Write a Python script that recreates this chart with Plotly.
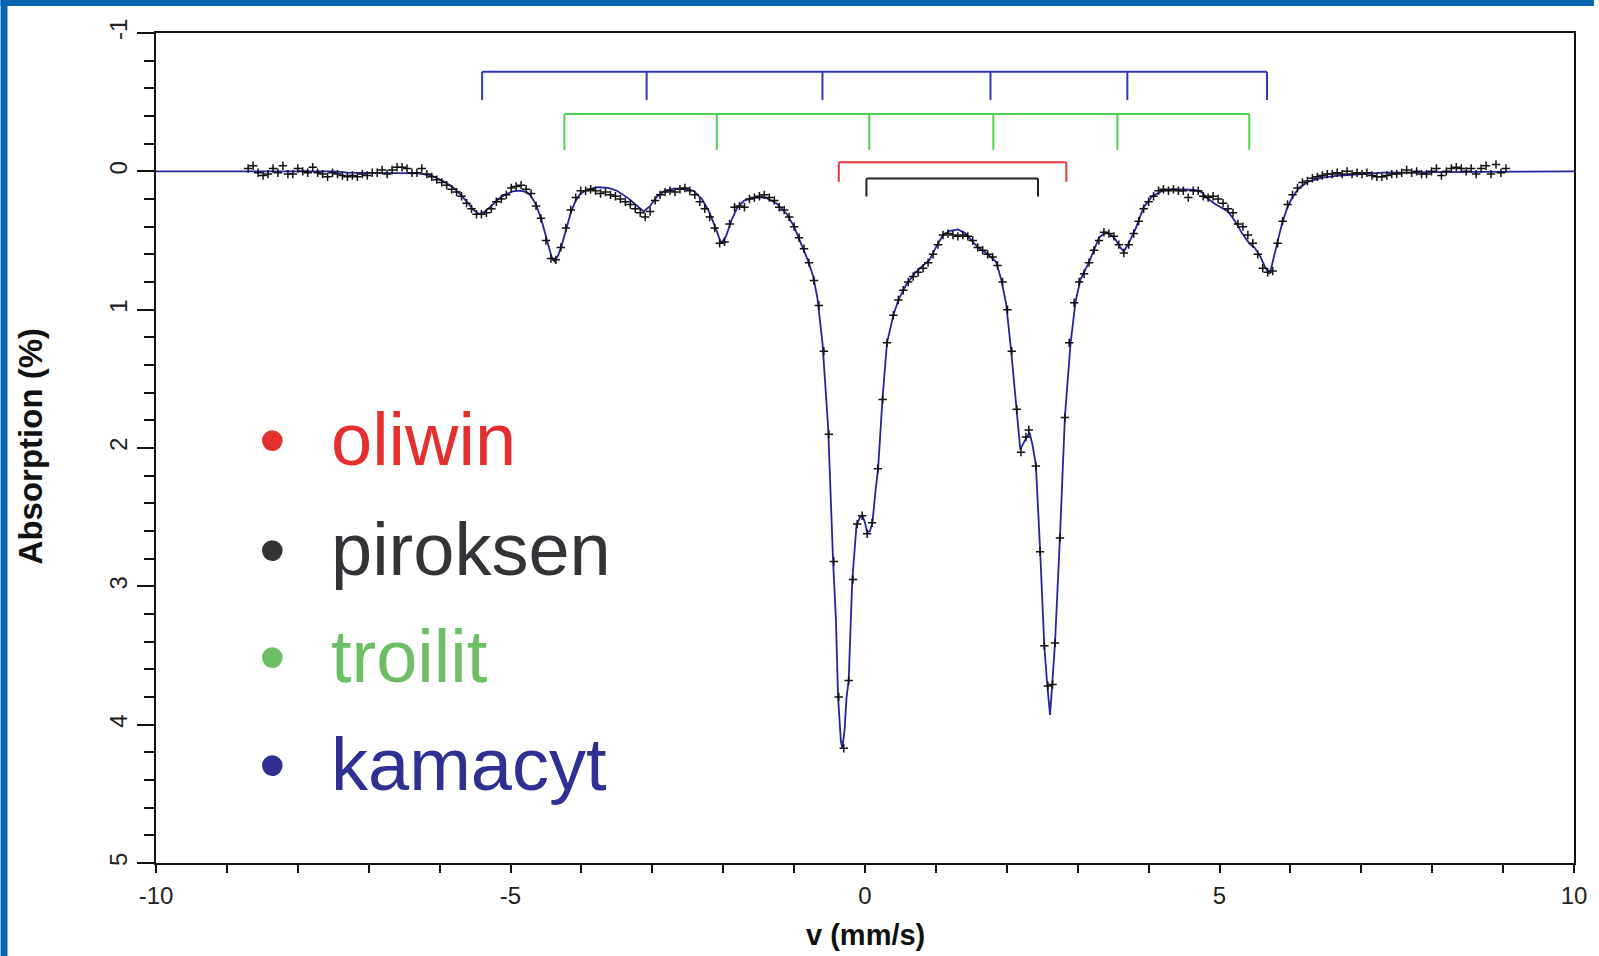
import plotly.graph_objects as go

# ---------------- data ----------------
fit_x = [-10.0, -7.5, -7.3, -6.9, -6.5, -6.3, -6.12, -5.93, -5.80, -5.70, -5.60, -5.52, -5.44,
         -5.36, -5.27, -5.17, -5.08, -4.97, -4.87, -4.77, -4.71, -4.64, -4.57, -4.52, -4.47,
         -4.42, -4.38, -4.33, -4.28, -4.24, -4.19, -4.15, -4.08, -4.01, -3.90, -3.77, -3.62,
         -3.50, -3.35, -3.22, -3.12, -3.03, -2.93, -2.82, -2.70, -2.55, -2.42, -2.30, -2.20,
         -2.10, -2.03, -1.96, -1.88, -1.80, -1.70, -1.55, -1.40, -1.25, -1.10, -1.00, -0.90,
         -0.80, -0.73, -0.67, -0.60, -0.52, -0.45, -0.41, -0.38, -0.34, -0.32, -0.29, -0.26,
         -0.23, -0.18, -0.12, -0.07, -0.035, 0.00, 0.03, 0.07, 0.105, 0.15, 0.185, 0.246,
         0.31, 0.40, 0.47, 0.58, 0.70, 0.80, 0.91, 1.00, 1.10, 1.20, 1.31, 1.42, 1.52, 1.62,
         1.71, 1.80, 1.85, 1.92, 1.99, 2.06, 2.13, 2.19, 2.25, 2.32, 2.36, 2.41, 2.47, 2.53,
         2.57, 2.61, 2.635, 2.68, 2.75, 2.82, 2.90, 2.97, 3.04, 3.16, 3.30, 3.39, 3.47, 3.53,
         3.60, 3.65, 3.72, 3.82, 3.93, 4.05, 4.20, 4.35, 4.50, 4.65, 4.75, 4.84, 4.95, 5.05,
         5.12, 5.22, 5.32, 5.42, 5.50, 5.58, 5.65, 5.71, 5.78, 5.88, 5.95, 6.02, 6.12, 6.25,
         6.45, 6.70, 7.00, 7.30, 7.60, 8.00, 10.0]
fit_y = [0.0, 0.0, 0.01, 0.01, 0.01, 0.015, 0.03, 0.075, 0.12, 0.17, 0.23, 0.28, 0.31,
         0.29, 0.25, 0.20, 0.17, 0.145, 0.14, 0.15, 0.18, 0.24, 0.34, 0.44, 0.54,
         0.62, 0.65, 0.61, 0.54, 0.46, 0.37, 0.30, 0.21, 0.16, 0.13, 0.115, 0.12,
         0.14, 0.19, 0.25, 0.29, 0.25, 0.18, 0.14, 0.125, 0.125, 0.14, 0.20, 0.29,
         0.42, 0.52, 0.47, 0.35, 0.26, 0.21, 0.19, 0.19, 0.23, 0.31, 0.40, 0.52,
         0.65, 0.76, 0.92, 1.24, 1.85, 2.82, 3.24, 3.80, 4.12, 4.17, 4.05, 3.80,
         3.68, 2.96, 2.56, 2.50, 2.49, 2.54, 2.61, 2.60, 2.54, 2.30, 2.15, 1.65,
         1.24, 1.04, 0.93, 0.82, 0.74, 0.69, 0.64, 0.55, 0.46, 0.43, 0.42, 0.45, 0.51, 0.56,
         0.59, 0.63, 0.656, 0.78, 0.955, 1.29, 1.71, 2.01, 1.95, 1.89, 1.97, 2.12, 2.74, 3.44,
         3.71, 3.93, 3.75, 3.41, 2.64, 1.77, 1.24, 0.94, 0.78, 0.656, 0.48, 0.44, 0.46, 0.49,
         0.55, 0.58, 0.52, 0.41, 0.26, 0.18, 0.14, 0.13, 0.13, 0.135, 0.15, 0.20, 0.24, 0.27,
         0.29, 0.36, 0.45, 0.52, 0.555, 0.62, 0.70, 0.74, 0.60, 0.38, 0.27, 0.195, 0.12, 0.075,
         0.045, 0.03, 0.02, 0.01, 0.01, 0.005, 0.0]

pts_x = [-8.70, -8.63, -8.56, -8.49, -8.42, -8.35, -8.28, -8.21, -8.14, -8.07, -8.00, -7.93,
         -7.86, -7.79, -7.72, -7.65, -7.58, -7.51, -7.44, -7.37, -7.30, -7.23, -7.16, -7.09,
         -7.02, -6.95, -6.88, -6.81, -6.74, -6.67, -6.60, -6.53, -6.46, -6.39, -6.32, -6.25,
         -6.18, -6.11, -6.04, -5.97, -5.90, -5.83, -5.76, -5.69, -5.62, -5.55, -5.48, -5.41,
         -5.34, -5.27, -5.20, -5.13, -5.06, -4.99, -4.92, -4.85, -4.78, -4.71, -4.64, -4.57,
         -4.50, -4.43, -4.36, -4.29, -4.22, -4.15, -4.08, -4.01, -3.94, -3.87, -3.80, -3.73,
         -3.66, -3.59, -3.52, -3.45, -3.38, -3.31, -3.24, -3.17, -3.10, -3.03, -2.96, -2.89,
         -2.82, -2.75, -2.68, -2.61, -2.54, -2.47, -2.40, -2.33, -2.26, -2.19, -2.12, -2.05,
         -1.98, -1.91, -1.84, -1.77, -1.70, -1.63, -1.56, -1.49, -1.42, -1.35, -1.28, -1.21,
         -1.14, -1.07, -1.00, -0.93, -0.86, -0.79, -0.72, -0.65, -0.58, -0.51, -0.44, -0.37,
         -0.30, -0.23, -0.17, -0.11, -0.04, 0.03, 0.10, 0.18, 0.25, 0.31, 0.40, 0.47,
         0.54, 0.61, 0.68, 0.75, 0.82, 0.89, 0.96, 1.03, 1.10, 1.17, 1.24, 1.31,
         1.38, 1.45, 1.52, 1.59, 1.66, 1.73, 1.80, 1.87, 1.94, 2.01, 2.07, 2.14,
         2.20, 2.27, 2.31, 2.41, 2.47, 2.53, 2.58, 2.645, 2.68, 2.75, 2.82, 2.88,
         2.95, 3.02, 3.09, 3.16, 3.23, 3.30, 3.37, 3.44, 3.51, 3.58, 3.65, 3.72,
         3.79, 3.86, 3.93, 4.00, 4.07, 4.14, 4.21, 4.28, 4.35, 4.42, 4.49, 4.56,
         4.63, 4.70, 4.77, 4.84, 4.91, 4.98, 5.05, 5.12, 5.19, 5.26, 5.33, 5.40,
         5.47, 5.54, 5.61, 5.68, 5.75, 5.82, 5.89, 5.96, 6.03, 6.10, 6.17, 6.24,
         6.31, 6.38, 6.45, 6.52, 6.59, 6.66, 6.73, 6.80, 6.87, 6.94, 7.01, 7.08,
         7.15, 7.22, 7.29, 7.36, 7.43, 7.50, 7.57, 7.64, 7.71, 7.78, 7.85, 7.92,
         7.99, 8.06, 8.13, 8.20, 8.27, 8.34, 8.41, 8.48, 8.55, 8.62, 8.69, 8.76,
         8.83, 8.90, 8.97, 9.04]
pts_y = [-0.02, -0.04, 0.01, 0.03, 0.02, -0.02, 0.01, -0.04, 0.02, 0.02, -0.02, 0.00,
         0.01, -0.03, 0.01, 0.02, 0.04, 0.01, 0.02, 0.03, 0.04, 0.03, 0.04, 0.02,
         0.03, 0.01, 0.01, -0.01, 0.02, -0.01, -0.03, -0.03, -0.02, 0.01, 0.01, -0.02,
         0.02, 0.04, 0.06, 0.08, 0.10, 0.13, 0.15, 0.18, 0.23, 0.27, 0.31, 0.31,
         0.30, 0.27, 0.22, 0.20, 0.17, 0.12, 0.11, 0.10, 0.13, 0.16, 0.25, 0.34,
         0.50, 0.63, 0.64, 0.55, 0.41, 0.28, 0.19, 0.14, 0.14, 0.13, 0.14, 0.16,
         0.15, 0.17, 0.18, 0.20, 0.22, 0.24, 0.27, 0.30, 0.33, 0.29, 0.21, 0.17,
         0.15, 0.14, 0.15, 0.13, 0.12, 0.14, 0.17, 0.22, 0.27, 0.33, 0.41, 0.52,
         0.51, 0.38, 0.26, 0.25, 0.26, 0.20, 0.19, 0.18, 0.17, 0.19, 0.21, 0.26,
         0.28, 0.33, 0.40, 0.48, 0.56, 0.66, 0.79, 0.97, 1.30, 1.90, 2.82, 3.80,
         4.17, 3.68, 2.95, 2.55, 2.49, 2.62, 2.54, 2.15, 1.65, 1.24, 1.04, 0.93,
         0.86, 0.80, 0.76, 0.73, 0.70, 0.66, 0.60, 0.53, 0.46, 0.45, 0.46, 0.47,
         0.46, 0.47, 0.50, 0.55, 0.57, 0.60, 0.62, 0.68, 0.80, 1.00, 1.30, 1.72,
         2.03, 1.92, 1.87, 2.13, 2.75, 3.43, 3.72, 3.71, 3.41, 2.65, 1.78, 1.24,
         0.95, 0.80, 0.74, 0.66, 0.57, 0.50, 0.44, 0.45, 0.47, 0.53, 0.59, 0.53,
         0.45, 0.36, 0.27, 0.22, 0.18, 0.14, 0.13, 0.14, 0.13, 0.14, 0.14, 0.19,
         0.14, 0.14, 0.18, 0.19, 0.18, 0.20, 0.23, 0.27, 0.30, 0.38, 0.40, 0.46,
         0.52, 0.60, 0.70, 0.73, 0.72, 0.52, 0.36, 0.24, 0.17, 0.12, 0.08, 0.07,
         0.05, 0.04, 0.03, 0.02, 0.02, 0.01, 0.02, 0.00, 0.02, 0.01, 0.02, 0.01,
         0.03, 0.04, 0.04, 0.03, 0.02, 0.02, 0.01, -0.01, 0.01, 0.00, 0.02, 0.02,
         0.00, -0.02, 0.03, 0.00, -0.02, -0.03, -0.02, 0.00, -0.02, 0.02, -0.02, -0.04,
         0.02, -0.05, 0.01, -0.02]

# line-position markers: (positions, top level, tick end level, colour)
kamacyt_sextet_x = [-5.40, -3.08, -0.60, 1.77, 3.70, 5.67]
troilit_sextet_x = [-4.24, -2.09, 0.06, 1.81, 3.56, 5.42]
oliwin_doublet_x = [-0.37, 2.84]
piroksen_doublet_x = [0.02, 2.44]
bracket_levels = {"blue": (-0.72, -0.515), "green": (-0.415, -0.155),
                  "red": (-0.065, 0.075), "black": (0.052, 0.182)}

legend_labels = ["oliwin", "piroksen", "troilit", "kamacyt"]
legend_colors = ["#e3302f", "#333338", "#6cbf64", "#2e3192"]

x_tickvals = [-10, -5, 0, 5, 10]
x_ticktext = ["-10", "-5", "0", "5", "10"]
y_tickvals = [-1, 0, 1, 2, 3, 4, 5]
y_ticktext = ["-1", "0", "1", "2", "3", "4", "5"]

# ---------------- figure ----------------
W, H = 1599, 956
ML, MR, MT, MB = 156, 20, 33, 93
PW, PH = W - ML - MR, H - MT - MB


def px(xp):
    return (xp - ML) / PW


def py(yp):
    return 1 - (yp - MT) / PH


fig = go.Figure()


def add_bracket(xs, levels, color):
    top, bot = levels
    bx, by = [], []
    bx += [xs[0], xs[-1], None]
    by += [top, top, None]
    for v in xs:
        bx += [v, v, None]
        by += [top, bot, None]
    fig.add_trace(go.Scatter(x=bx, y=by, mode="lines",
                             line=dict(color=color, width=2),
                             hoverinfo="skip", showlegend=False))


add_bracket(kamacyt_sextet_x, bracket_levels["blue"], "#3535c4")
add_bracket(troilit_sextet_x, bracket_levels["green"], "#4fd24f")
add_bracket(oliwin_doublet_x, bracket_levels["red"], "#e0383c")
add_bracket(piroksen_doublet_x, bracket_levels["black"], "#222222")

fig.add_trace(go.Scatter(x=fit_x, y=fit_y, mode="lines",
                         line=dict(color="#24249c", width=1.8),
                         showlegend=False))
fig.add_trace(go.Scatter(x=pts_x, y=pts_y, mode="markers",
                         marker=dict(symbol="cross-thin", size=6,
                                     line=dict(color="#111111", width=1.5)),
                         showlegend=False))

tickfont = dict(family="Liberation Sans, Arial", size=24, color="#222222")
fig.update_xaxes(range=[-10, 10], tickvals=x_tickvals, ticktext=x_ticktext,
                 ticks="outside", ticklen=8, tickwidth=1.5, tickcolor="#111",
                 minor=dict(dtick=1, ticks="outside", ticklen=8, tickwidth=1.5, tickcolor="#111"),
                 showline=True, linecolor="#111", linewidth=2, mirror=True,
                 showgrid=False, zeroline=False, tickfont=tickfont,
                 ticklabelstandoff=2)
fig.update_yaxes(range=[5, -1], tickvals=y_tickvals, ticktext=y_ticktext,
                 ticks="outside", ticklen=17, tickwidth=1.5, tickcolor="#111",
                 minor=dict(dtick=0.2, ticks="outside", ticklen=10, tickwidth=1.5, tickcolor="#111"),
                 showline=True, linecolor="#111", linewidth=2, mirror=True,
                 showgrid=False, zeroline=False, tickfont=tickfont, tickangle=-90)

annotations = []
annotations.append(dict(text="<b>v (mm/s)</b>", xref="paper", yref="paper",
                        x=px(868), y=py(935), xanchor="center", yanchor="middle",
                        showarrow=False,
                        font=dict(family="Liberation Sans, Arial", size=29, color="#111")))
annotations.append(dict(text="<b>Absorption (%)</b>", xref="paper", yref="paper",
                        x=px(31), y=py(446), xanchor="center", yanchor="middle",
                        textangle=-90, showarrow=False,
                        font=dict(family="Liberation Sans, Arial", size=33, color="#111")))

baselines = [464, 573, 680, 788]
for lab, col, bl in zip(legend_labels, legend_colors, baselines):
    yc = bl - 24
    annotations.append(dict(text="•", xref="paper", yref="paper", x=px(273), y=py(yc),
                            xanchor="center", yanchor="middle", showarrow=False,
                            font=dict(family="Liberation Sans, Arial", size=76, color=col)))
    annotations.append(dict(text=lab, xref="paper", yref="paper", x=px(330), y=py(yc),
                            xanchor="left", yanchor="middle", showarrow=False,
                            font=dict(family="Liberation Sans, Arial", size=74, color=col)))

# blue frame strips (left and top) of the slide
shapes = [
    dict(type="rect", xref="paper", yref="paper", x0=px(0), x1=px(7), y0=py(H), y1=py(0),
         fillcolor="#0a64b4", line=dict(width=0), layer="above"),
    dict(type="rect", xref="paper", yref="paper", x0=px(0), x1=px(W), y0=py(6), y1=py(0),
         fillcolor="#0a64b4", line=dict(width=0), layer="above"),
]

fig.update_layout(width=W, height=H, margin=dict(l=ML, r=MR, t=MT, b=MB),
                  paper_bgcolor="white", plot_bgcolor="white",
                  annotations=annotations, shapes=shapes, showlegend=False)

fig.write_html("out.html")
